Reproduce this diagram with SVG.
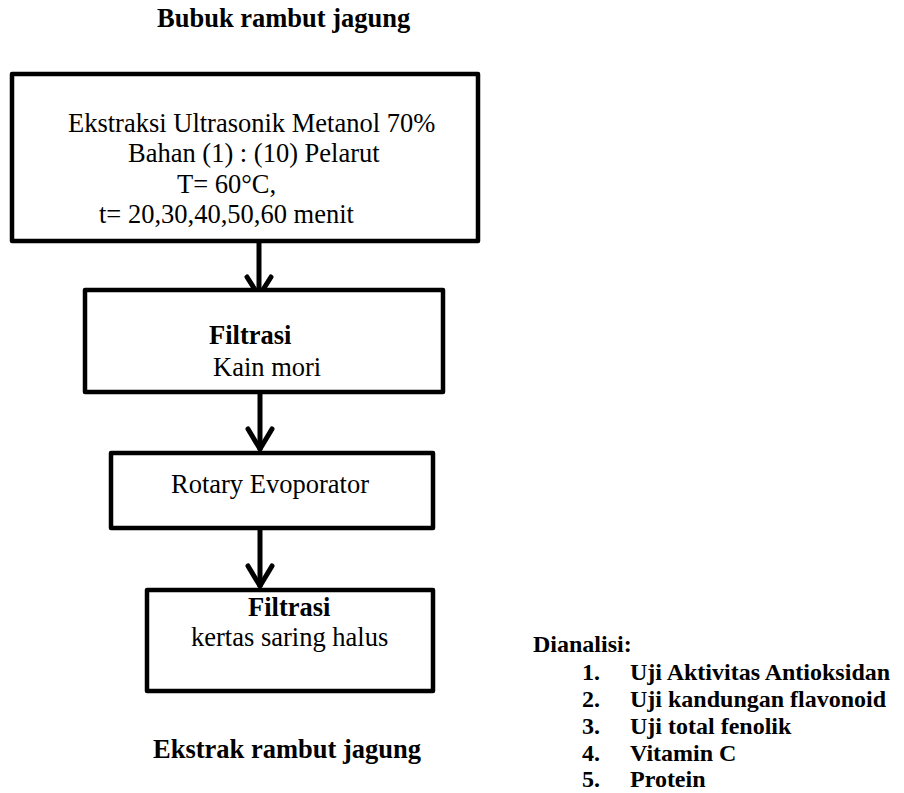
<svg xmlns="http://www.w3.org/2000/svg" width="904" height="793" viewBox="0 0 904 793">
<style>
text{font-family:"Liberation Serif","Times New Roman",serif;fill:#000}
.t{font-size:26.5px}
.b{font-weight:bold}
.l{font-size:24px;font-weight:bold}
.box{fill:#fff;stroke:#000;stroke-width:4.5;stroke-linejoin:round}
.ln{fill:none;stroke:#000;stroke-width:5}
.hd{fill:none;stroke:#000;stroke-width:5;stroke-linejoin:miter;stroke-linecap:round}
</style>
<rect width="904" height="793" fill="#fff"/>
<g id="title-top"><text class="t b" x="157" y="27">Bubuk rambut jagung</text></g>
<g id="connectors">
<line class="ln" x1="259" y1="241" x2="259" y2="296"/>
<path class="hd" d="M247,277 L259,296 L271,277"/>
<line class="ln" x1="260" y1="392" x2="260" y2="450"/>
<path class="hd" d="M248,429 L260,449 L272,429"/>
<line class="ln" x1="260" y1="528" x2="260" y2="587"/>
<path class="hd" d="M248,566 L260,586 L272,566"/>
</g>
<g id="node-ekstraksi">
<rect class="box" x="12" y="74" width="466" height="167"/>
<text class="t" x="68" y="132">Ekstraksi Ultrasonik Metanol 70%</text>
<text class="t" x="128" y="162">Bahan (1) : (10) Pelarut</text>
<text class="t" x="177" y="193">T= 60°C,</text>
<text class="t" x="99" y="223">t= 20,30,40,50,60 menit</text>
</g>
<g id="node-filtrasi1">
<rect class="box" x="85" y="290" width="358" height="102"/>
<text class="t b" x="209" y="344">Filtrasi</text>
<text class="t" x="213" y="376">Kain mori</text>
</g>
<g id="node-rotary">
<rect class="box" x="111" y="453" width="322" height="75"/>
<text class="t" x="171" y="493">Rotary Evoporator</text>
</g>
<g id="node-filtrasi2">
<rect class="box" x="147" y="590" width="286" height="101"/>
<text class="t b" x="248" y="616">Filtrasi</text>
<text class="t" x="191" y="646">kertas saring halus</text>
</g>
<g id="title-bottom"><text class="t b" x="153" y="758">Ekstrak rambut jagung</text></g>
<g id="analisis">
<text class="l" x="533" y="652">Dianalisi:</text>
<text class="l" x="582" y="680">1.</text><text class="l" x="630" y="680">Uji Aktivitas Antioksidan</text>
<text class="l" x="582" y="707">2.</text><text class="l" x="630" y="707">Uji kandungan flavonoid</text>
<text class="l" x="582" y="734">3.</text><text class="l" x="630" y="734">Uji total fenolik</text>
<text class="l" x="582" y="761">4.</text><text class="l" x="630" y="761">Vitamin C</text>
<text class="l" x="582" y="787">5.</text><text class="l" x="630" y="787">Protein</text>
</g>
</svg>
